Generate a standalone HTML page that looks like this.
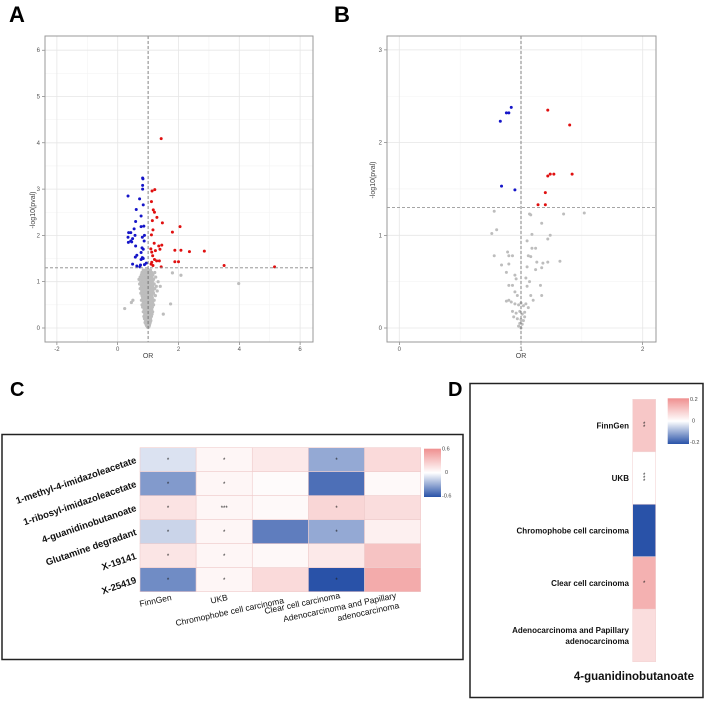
<!DOCTYPE html>
<html><head><meta charset="utf-8"><style>
body{margin:0;background:#fff;}
svg{display:block;font-family:"Liberation Sans",sans-serif;}
</style></head><body>
<svg id="fig" width="709" height="707" viewBox="0 0 709 707">
<rect x="0" y="0" width="709" height="707" fill="#fff"/>
<text x="9" y="22" font-size="22" font-weight="bold">A</text>
<text x="334" y="22" font-size="22" font-weight="bold">B</text>
<text x="10" y="396" font-size="20" font-weight="bold">C</text>
<text x="448" y="396" font-size="20" font-weight="bold">D</text>
<g id="pa"></g>
<g id="pb"></g>
<g id="pc"></g>
<g id="pd"></g>
</svg>
<script>
// ---- Panel A data ----
const aBlueOR=[0.82,0.83,0.82,0.82,0.34,0.72,0.84,0.61,0.77,0.59,0.86,0.77,0.54,0.36,0.43,0.57,0.88,0.34,0.49,0.81,0.43,0.35,0.46,0.59,0.87,0.80,0.84,0.77,0.63,0.58,0.81,0.77,0.84,0.94,0.49,0.75,0.88,0.63,0.73];
const aBlueY=[3.24,3.22,3.08,3.0,2.85,2.79,2.66,2.56,2.42,2.30,2.2,2.19,2.14,2.06,2.06,2.0,2.0,1.96,1.93,1.96,1.88,1.85,1.86,1.77,1.88,1.73,1.70,1.63,1.57,1.53,1.52,1.48,1.50,1.40,1.38,1.36,1.37,1.34,1.32];
const aRedOR=[1.43,1.13,1.22,1.11,1.17,1.21,1.29,1.14,1.47,2.05,1.16,1.80,1.11,1.20,1.35,1.45,1.09,1.24,1.39,1.12,1.88,2.08,2.36,2.85,1.15,1.21,1.28,1.37,1.12,1.16,1.88,2.0,1.43,3.50,5.16,1.10];
const aRedY=[4.09,2.96,2.99,2.73,2.55,2.50,2.39,2.32,2.27,2.19,2.12,2.07,2.01,1.83,1.77,1.79,1.71,1.67,1.70,1.64,1.68,1.68,1.65,1.66,1.56,1.48,1.45,1.45,1.42,1.35,1.43,1.43,1.32,1.35,1.32,1.38];
const aGrayLevels=[0.02,0.05,0.08,0.12,0.16,0.2,0.25,0.3,0.35,0.4,0.45,0.5,0.55,0.6,0.65,0.7,0.75,0.8,0.85,0.9,0.95,1.0,1.05,1.1,1.15,1.2,1.25];
const aGrayOR=[[0.98,1.02],[0.95,1.0,1.04],[0.93,0.99,1.05],[0.9,0.97,1.02,1.07],[0.92,0.96,1.0,1.04,1.09],[0.88,0.94,0.99,1.03,1.08],[0.86,0.91,0.97,1.01,1.06,1.11],[0.89,0.94,0.98,1.02,1.07,1.13],[0.84,0.9,0.95,1.0,1.04,1.1,1.15],[0.87,0.92,0.97,1.01,1.06,1.12],[0.82,0.88,0.93,0.98,1.03,1.08,1.14],[0.8,0.86,0.91,0.96,1.0,1.05,1.1,1.18],[0.84,0.89,0.94,0.99,1.04,1.09,1.15],[0.78,0.85,0.9,0.95,1.0,1.06,1.12,1.2],[0.82,0.88,0.93,0.98,1.03,1.08,1.14],[0.8,0.86,0.92,0.97,1.01,1.07,1.13,1.24],[0.76,0.84,0.9,0.95,1.0,1.05,1.11,1.18],[0.79,0.87,0.93,0.98,1.03,1.09,1.16,1.3],[0.74,0.82,0.89,0.95,1.0,1.06,1.13,1.22],[0.78,0.86,0.92,0.97,1.02,1.08,1.15,1.27],[0.72,0.8,0.88,0.94,0.99,1.05,1.11,1.2],[0.76,0.84,0.9,0.96,1.01,1.07,1.14,1.33],[0.7,0.8,0.87,0.93,0.98,1.04,1.1,1.18],[0.74,0.83,0.89,0.95,1.0,1.06,1.13,1.25],[0.78,0.86,0.92,0.97,1.03,1.09,1.16],[0.8,0.88,0.94,0.99,1.05,1.12,1.22],[0.84,0.91,0.96,1.02,1.08]];
const aOutOR=[0.23,3.98,2.08,1.74,1.80,0.5,0.45,1.5,1.4];
const aOutY=[0.42,0.96,1.14,0.52,1.19,0.6,0.55,0.3,0.9];
const aXTicks=[-2,0,2,4,6];
const aYTicks=[0,1,2,3,4,5,6];
// ---- Panel B data ----
const bBlueOR=[0.92,0.90,0.88,0.83,0.84,0.95];
const bBlueY=[2.38,2.32,2.32,2.23,1.53,1.49];
const bRedOR=[1.22,1.40,1.42,1.22,1.24,1.27,1.20,1.14,1.20];
const bRedY=[2.35,2.19,1.66,1.64,1.66,1.66,1.46,1.33,1.33];
const bGrayOR=[0.78,1.07,1.08,1.35,1.52,0.80,0.76,1.09,1.17,1.24,1.22,1.05,0.89,0.78,0.90,0.93,1.09,1.12,1.06,1.08,1.32,1.22,1.18,1.13,0.84,0.90,1.17,1.05,1.12,0.88,0.95,0.96,1.04,1.07,0.90,0.93,1.16,1.05,0.95,1.17,1.08,0.97,0.90,0.92,0.95,0.98,1.0,1.02,1.04,1.06,0.93,0.96,0.99,1.01,1.03,0.97,1.0,1.02,0.99,1.01,0.88,1.1,0.94,1.03,0.98,1.0];
const bGrayY=[1.26,1.23,1.22,1.23,1.24,1.06,1.02,1.01,1.13,1.0,0.96,0.94,0.82,0.78,0.78,0.78,0.86,0.86,0.78,0.77,0.72,0.71,0.70,0.71,0.68,0.69,0.65,0.66,0.63,0.60,0.57,0.53,0.54,0.50,0.46,0.46,0.46,0.45,0.39,0.35,0.35,0.35,0.30,0.28,0.26,0.25,0.27,0.24,0.26,0.22,0.18,0.16,0.18,0.15,0.17,0.10,0.09,0.08,0.05,0.04,0.29,0.30,0.12,0.12,0.02,0.0];
const bXTicks=[0,1,2];
const bYTicks=[0,1,2,3];
// ---- Panel C data ----
const cRows=["1-methyl-4-imidazoleacetate","1-ribosyl-imidazoleacetate","4-guanidinobutanoate","Glutamine degradant","X-19141","X-25419"];
const cCols=["FinnGen","UKB","Chromophobe  cell carcinoma","Clear cell carcinoma","Adenocarcinoma and Papillary|adenocarcinoma"];
const cValues=[[-0.1,0.05,0.12,-0.3,0.2],[-0.35,0.05,0.02,-0.5,0.03],[0.15,0.05,0.03,0.22,0.18],[-0.15,0.05,-0.45,-0.3,0.08],[0.14,0.05,0.04,0.12,0.32],[-0.4,0.05,0.2,-0.6,0.45]];
const cStars=[["*","*","","*",""],["*","*","","",""],["*","***","","*",""],["*","*","","*",""],["*","*","","",""],["*","*","","*",""]];
const cScale=[0.6,0,-0.6];
// ---- Panel D data ----
const dRows=["FinnGen","UKB","Chromophobe  cell carcinoma","Clear cell carcinoma","Adenocarcinoma and Papillary|adenocarcinoma"];
const dValues=[0.1,0.0,-0.2,0.14,0.06];
const dStars=["**","***","","*",""];
const dScale=[0.2,0,-0.2];

const NS="http://www.w3.org/2000/svg";
function mk(parent,tag,attrs,text){const e=document.createElementNS(NS,tag);for(const k in attrs)e.setAttribute(k,attrs[k]);if(text!==undefined)e.textContent=text;parent.appendChild(e);return e;}
function mix(a,b,t){return a.map((v,i)=>Math.round(v+(b[i]-v)*t));}
function colorFor(v,max){const w=[255,255,255],r=[239,143,143],bl=[41,82,168];let t=Math.max(-1,Math.min(1,v/max));const c=t>=0?mix(w,r,t):mix(w,bl,-t);return `rgb(${c[0]},${c[1]},${c[2]})`;}

function volcano(g,box,xs,ys,xT,yT,xMinor,yMinor,series,ylabPos){
  const [L,T,R,B]=box;
  mk(g,'rect',{x:L,y:T,width:R-L,height:B-T,fill:'#fff'});
  for(const v of xMinor){mk(g,'line',{x1:xs(v),x2:xs(v),y1:T,y2:B,stroke:'#f3f3f3','stroke-width':0.6});}
  for(const v of yMinor){mk(g,'line',{x1:L,x2:R,y1:ys(v),y2:ys(v),stroke:'#f3f3f3','stroke-width':0.6});}
  for(const v of xT){const l=mk(g,'line',{x1:xs(v),x2:xs(v),y1:T,y2:B,stroke:'#e6e6e6','stroke-width':0.8});
    
    mk(g,'line',{x1:xs(v),x2:xs(v),y1:B,y2:B+3,stroke:'#666','stroke-width':0.6});
    const t=mk(g,'text',{x:xs(v),y:B+9,'font-size':6,fill:'#555','text-anchor':'middle'},String(v));
    }
  for(const v of yT){const l=mk(g,'line',{x1:L,x2:R,y1:ys(v),y2:ys(v),stroke:'#e6e6e6','stroke-width':0.8});
    
    mk(g,'line',{x1:L-3,x2:L,y1:ys(v),y2:ys(v),stroke:'#666','stroke-width':0.6});
    const t=mk(g,'text',{x:L-5,y:ys(v)+2,'font-size':6,fill:'#555','text-anchor':'end'},String(v));
    }
  for(const s of series){for(let i=0;i<s.x.length;i++){const c=mk(g,'circle',{cx:xs(s.x[i]),cy:ys(s.y[i]),r:s.r,fill:s.c});
    }}
  const v1=mk(g,'line',{x1:xs(1),x2:xs(1),y1:T,y2:B,stroke:'#666','stroke-width':0.8,'stroke-dasharray':'3,2'});
  
  const h1=mk(g,'line',{x1:L,x2:R,y1:ys(1.3),y2:ys(1.3),stroke:'#888','stroke-width':0.8,'stroke-dasharray':'3,2'});
  
  mk(g,'rect',{x:L,y:T,width:R-L,height:B-T,fill:'none',stroke:'#999','stroke-width':1});
  const xl=mk(g,'text',{x:xs(1),y:B+16,'font-size':7,fill:'#444','text-anchor':'middle'},'OR');
  
  const yl=mk(g,'text',{x:ylabPos[0],y:ylabPos[1],'font-size':7,fill:'#444','text-anchor':'middle',transform:`rotate(-90 ${ylabPos[0]} ${ylabPos[1]})`},'-log10(pval)');
  
}
// Panel A
{
  const xs=v=>117.7+30.4*v, ys=v=>328-46.3*v;
  const gx=[],gy=[];
  aGrayLevels.forEach((lv,i)=>aGrayOR[i].forEach(o=>{gx.push(o);gy.push(lv);}));
  aOutOR.forEach((o,i)=>{gx.push(o);gy.push(aOutY[i]);});
  volcano(document.getElementById('pa'),[45,36,313,342],xs,ys,aXTicks,aYTicks,[-1,1,3,5],[0.5,1.5,2.5,3.5,4.5,5.5],
   [{x:gx,y:gy,c:'#bdbdbd',r:1.6,name:'point-nonsignificant'},{x:aBlueOR,y:aBlueY,c:'#1515c8',r:1.5,name:'point-protective'},{x:aRedOR,y:aRedY,c:'#e01010',r:1.5,name:'point-risk'}],[35,210]);
}
// Panel B
{
  const xs=v=>399.3+121.7*v, ys=v=>328-92.7*v;
  volcano(document.getElementById('pb'),[387,36,656,342],xs,ys,bXTicks,bYTicks,[0.5,1.5],[0.5,1.5,2.5],
   [{x:bGrayOR,y:bGrayY,c:'#bdbdbd',r:1.5,name:'point-nonsignificant'},{x:bBlueOR,y:bBlueY,c:'#1515c8',r:1.5,name:'point-protective'},{x:bRedOR,y:bRedY,c:'#e01010',r:1.5,name:'point-risk'}],[375,180]);
}
// Panel C
{
  const g=document.getElementById('pc');
  const fr=mk(g,'rect',{x:2,y:434.5,width:461,height:225,fill:'none',stroke:'#222','stroke-width':1.5});
  
  const X0=140,Y0=447.7,cw=(420.7-140)/cCols.length,ch=144/cRows.length;
  cValues.forEach((row,i)=>row.forEach((v,j)=>{
    const r=mk(g,'rect',{x:X0+j*cw,y:Y0+i*ch,width:cw,height:ch,fill:colorFor(v,0.6),stroke:'#efcccc','stroke-width':0.6});
    
    if(cStars[i][j]){const t=mk(g,'text',{x:X0+(j+0.5)*cw,y:Y0+(i+0.5)*ch+2.5,'font-size':6,'text-anchor':'middle',fill:'#222'},cStars[i][j]);
      }
  }));
  cRows.forEach((n,i)=>{const x=137,y=Y0+(i+0.5)*ch+3;
    const t=mk(g,'text',{x:x,y:y,'font-size':9.5,'font-weight':'bold','text-anchor':'end',fill:'#111',transform:`rotate(-19 ${x} ${y})`},n);
    });
  const cy=[600,600,603,598,598];
  cCols.forEach((n,j)=>{const parts=n.split('|');const x=X0+(j+0.5)*cw+4;
    parts.forEach((p,k)=>{const y=cy[j]+k*10;const xx=x+k*3;
      const t=mk(g,'text',{x:xx,y:y,'font-size':8.5,'text-anchor':'end',fill:'#111',transform:`rotate(-12 ${xx} ${y})`},p);
      });});
  const defs=mk(g,'defs',{});const lg=mk(defs,'linearGradient',{id:'gc',x1:0,y1:0,x2:0,y2:1});
  mk(lg,'stop',{offset:'0','stop-color':colorFor(0.6,0.6)});mk(lg,'stop',{offset:'0.5','stop-color':'#fff'});mk(lg,'stop',{offset:'1','stop-color':colorFor(-0.6,0.6)});
  const lr=mk(g,'rect',{x:424,y:448.7,width:17,height:48.3,fill:'url(#gc)'});
  
  cScale.forEach((v,k)=>{const t=mk(g,'text',{x:442+(v===0?3:0),y:450.5+k*23.5,'font-size':5.5,fill:'#444'},v===0?'0':(v>0?String(v):'-'+Math.abs(v)));
    });
}
// Panel D
{
  const g=document.getElementById('pd');
  const fr=mk(g,'rect',{x:470,y:383.5,width:233,height:314,fill:'none',stroke:'#222','stroke-width':1.5});
  
  const X0=632.7,W=23,Y0=399.3,ch=262.4/dRows.length;
  dValues.forEach((v,i)=>{const r=mk(g,'rect',{x:X0,y:Y0+i*ch,width:W,height:ch,fill:colorFor(v,0.2),stroke:'#f2d6d6','stroke-width':0.6});
    
    const s=dStars[i];const cyy=Y0+(i+0.5)*ch;
    for(let k=0;k<s.length;k++){const t=mk(g,'text',{x:X0+W/2,y:cyy+2+(k-(s.length-1)/2)*3,'font-size':6,'text-anchor':'middle',fill:'#222'},'*');
      }
  });
  dRows.forEach((n,i)=>{const parts=n.split('|');const cyy=Y0+(i+0.5)*ch;
    parts.forEach((p,k)=>{const y=cyy+3+(k-(parts.length-1)/2)*11;
      const t=mk(g,'text',{x:629,y:y,'font-size':8,'font-weight':'bold','text-anchor':'end',fill:'#111'},p);
      });});
  const ml=mk(g,'text',{x:694,y:680,'font-size':11.5,'font-weight':'bold','text-anchor':'end',fill:'#111'},'4-guanidinobutanoate');
  
  const defs=mk(g,'defs',{});const lg=mk(defs,'linearGradient',{id:'gd',x1:0,y1:0,x2:0,y2:1});
  mk(lg,'stop',{offset:'0','stop-color':colorFor(0.2,0.2)});mk(lg,'stop',{offset:'0.5','stop-color':'#fff'});mk(lg,'stop',{offset:'1','stop-color':colorFor(-0.2,0.2)});
  const lr=mk(g,'rect',{x:667.7,y:398.3,width:21.3,height:45.7,fill:'url(#gd)'});
  
  dScale.forEach((v,k)=>{const t=mk(g,'text',{x:690+(v===0?2:0),y:401+k*21.5,'font-size':5.5,fill:'#444'},v===0?'0':(v>0?String(v):'-'+Math.abs(v)));
    });
}
</script>
</body></html>
